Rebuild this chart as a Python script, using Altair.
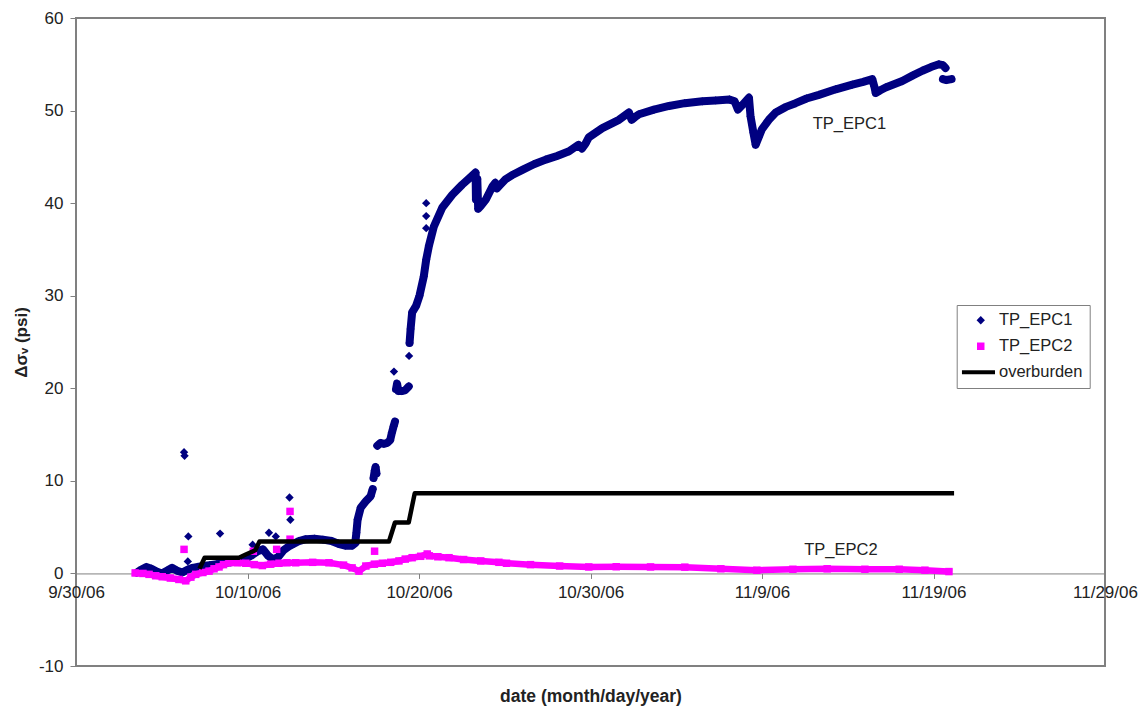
import altair as alt
import pandas as pd

BASE_DATE = "2006-09-30"
SERIES = ["TP_EPC1", "TP_EPC2", "overburden"]
COLORS = ["#000080", "#FF00FF", "#000000"]
LINE_SYMBOL = "M-5.8,-0.6L4.4,-0.6L4.4,0.6L-5.8,0.6Z"
TICK_DATES = ["2006-09-30", "2006-10-10", "2006-10-20", "2006-10-30",
              "2006-11-09", "2006-11-19", "2006-11-29"]
Y_TICKS = [-10, 0, 10, 20, 30, 40, 50, 60]

# TP_EPC1 dense trace (days after 9/30/06, psi, segment id)
EPC1_DAYS = [3.55, 3.8, 4.1, 4.4, 4.7, 5.0, 5.3, 5.6, 5.9, 6.2, 6.5, 6.8, 7.1, 7.4, 7.8, 8.2, 8.6,
             9.0, 9.4, 9.8, 10.2, 10.6, 10.9, 11.2, 11.5, 11.8, 12.1, 12.4, 12.7, 13.0, 13.4, 13.9,
             14.4, 14.9, 15.3, 15.7, 16.1, 16.3,
             16.3, 16.35, 16.42, 16.6, 16.9, 17.18, 17.3,
             17.35, 17.42, 17.47, 17.52,
             17.57, 17.75, 17.95, 18.15, 18.32, 18.42, 18.52, 18.6,
             18.66, 18.72, 18.8, 19.0, 19.2, 19.4,
             19.45, 19.51, 19.6, 19.83, 20.03, 20.28, 20.42, 20.58, 20.87, 21.35, 21.94, 22.52, 23.0,
             23.3, 23.4, 23.35, 23.32, 23.45, 23.6, 23.9, 24.28, 24.45, 24.55, 24.75, 25.06, 25.5,
             26.03, 26.7, 27.39, 28.05, 28.75, 29.3, 29.5, 29.7, 29.9, 30.69, 31.66, 32.24, 32.4,
             32.6, 32.83, 33.7, 34.58, 35.5, 36.52, 37.3, 38.1, 38.4, 38.6, 38.95, 39.24, 39.33,
             39.5, 39.63, 39.8, 40.0, 40.4, 40.8, 41.4, 41.96, 42.6, 43.32, 44.3, 45.27, 45.9,
             46.43, 46.55, 46.63, 46.9, 47.21, 48.18, 48.8, 49.35, 49.85, 50.32, 50.55, 50.7,
             50.55, 50.75, 51.05]
EPC1_VALUES = [0.1, 0.4, 0.7, 0.5, 0.2, 0.0, 0.3, 0.6, 0.3, 0.1, 0.4, 0.6, 0.7, 0.8, 0.9, 1.0, 1.1,
               1.2, 1.3, 1.5, 1.9, 2.4, 2.6, 1.9, 1.5, 1.8, 2.5, 2.9, 3.2, 3.5, 3.7, 3.75,
               3.65, 3.5, 3.2, 3.0, 3.0, 3.3,
               3.6, 4.4, 5.8, 7.1, 7.8, 8.35, 9.1,
               10.3, 11.1, 11.5, 10.8,
               13.8, 14.1, 14.0, 14.1, 14.4, 15.2, 15.9, 16.4,
               19.9, 20.5, 19.7, 19.7, 19.8, 20.2,
               24.9, 26.4, 28.2, 28.9, 30.0, 32.1, 33.9, 35.4, 37.5, 39.5, 40.9, 42.0, 42.8,
               43.3, 42.6, 41.3, 40.4, 39.4, 39.7, 40.4, 41.8, 42.2, 41.6, 42.0, 42.6, 43.1,
               43.6, 44.2, 44.7, 45.1, 45.6, 46.3, 45.9, 46.4, 47.1, 48.1, 49.0, 49.8, 49.0,
               49.3, 49.6, 50.1, 50.5, 50.8, 51.0, 51.1, 51.2, 51.0, 50.1, 50.8, 51.4, 49.4,
               47.6, 46.3, 47.1, 48.0, 49.0, 49.8, 50.4, 50.8, 51.3, 51.7, 52.3, 52.8, 53.1,
               53.4, 52.6, 51.9, 52.2, 52.5, 53.2, 53.8, 54.3, 54.7, 55.0, 54.9, 54.6,
               53.4, 53.3, 53.4]
EPC1_SEGMENTS = [0] * 38 + [1] * 7 + [2] * 4 + [3] * 8 + [4] * 6 + [5] * 77 + [6] * 3

# TP_EPC1 scattered readings
EPC1_OUT_DAYS = [6.3, 6.33, 6.55, 6.52, 8.4, 10.3, 11.25, 11.65, 12.45, 12.5,
                 18.54, 19.42, 20.42, 20.42, 20.42]
EPC1_OUT_VALUES = [13.1, 12.7, 4.0, 1.3, 4.3, 3.1, 4.4, 4.0, 8.2, 5.8,
                   21.8, 23.5, 40.0, 38.6, 37.3]

# TP_EPC2 dense trace
EPC2_DAYS = [3.45, 3.9, 4.26, 4.65, 5.03, 5.5, 6.0, 6.4, 6.7, 6.98, 7.4, 7.76, 8.05, 8.34, 8.6,
             8.92, 9.4, 9.9, 10.4, 10.86, 11.35, 11.84, 12.3, 12.81, 13.8, 14.75, 15.6, 16.1,
             16.5, 16.9, 17.4, 17.86, 18.35, 18.83, 19.2, 19.6, 20.1, 20.48, 20.6, 21.1, 21.75,
             22.6, 23.6, 24.66, 25.1, 26.5, 28.2, 29.9, 31.5, 33.5, 35.5, 37.6, 39.7, 41.8,
             43.8, 46.0, 48.0, 49.5, 50.9]
EPC2_VALUES = [0.05, 0.0, -0.1, -0.25, -0.36, -0.5, -0.65, -0.8, -0.4, -0.1, 0.1, 0.25, 0.5, 0.7,
               0.95, 1.15, 1.15, 1.1, 0.95, 0.85, 1.0, 1.1, 1.15, 1.15, 1.2, 1.15, 0.9, 0.6,
               0.25, 0.8, 1.0, 1.1, 1.2, 1.35, 1.55, 1.7, 1.85, 2.1, 1.9, 1.8, 1.7,
               1.5, 1.35, 1.2, 1.1, 0.95, 0.8, 0.7, 0.72, 0.7, 0.68, 0.5, 0.35, 0.45,
               0.5, 0.45, 0.45, 0.35, 0.2]
EPC2_OUT_DAYS = [6.3, 10.34, 11.7, 12.48, 12.48, 17.41]
EPC2_OUT_VALUES = [2.6, 2.4, 2.6, 6.7, 3.7, 2.4]

# overburden
OVB_DAYS = [7.2, 7.5, 9.5, 9.9, 10.45, 10.7, 18.25, 18.6, 19.4, 19.75, 51.2]
OVB_VALUES = [0.5, 1.7, 1.7, 2.05, 2.5, 3.45, 3.45, 5.5, 5.5, 8.65, 8.65]

# annotations
LABEL_TEXT = ["TP_EPC1", "TP_EPC2"]
LABEL_DAYS = [45.1, 44.6]
LABEL_VALUES = [48.6, 2.5]

FONT = "Liberation Sans"
base = pd.Timestamp(BASE_DATE)


def to_dates(days):
    return list(base + pd.to_timedelta(pd.Series(days, dtype=float), unit="D"))


epc1_line = pd.DataFrame({"date": to_dates(EPC1_DAYS), "value": EPC1_VALUES,
                          "seg": EPC1_SEGMENTS})
epc2_line = pd.DataFrame({"date": to_dates(EPC2_DAYS), "value": EPC2_VALUES})
ovb = pd.DataFrame({"date": to_dates(OVB_DAYS), "value": OVB_VALUES})
points = pd.concat([
    pd.DataFrame({"date": to_dates(EPC1_DAYS + EPC1_OUT_DAYS),
                  "value": EPC1_VALUES + EPC1_OUT_VALUES, "series": "TP_EPC1"}),
    pd.DataFrame({"date": to_dates(EPC2_DAYS + EPC2_OUT_DAYS),
                  "value": EPC2_VALUES + EPC2_OUT_VALUES, "series": "TP_EPC2"}),
], ignore_index=True)
labels = pd.DataFrame({"date": to_dates(LABEL_DAYS), "value": LABEL_VALUES,
                       "text": LABEL_TEXT})


def dt(s):
    t = pd.Timestamp(s)
    return alt.DateTime(year=t.year, month=t.month, date=t.day)


x_enc = alt.X(
    "date:T",
    scale=alt.Scale(domain=[dt(TICK_DATES[0]), dt(TICK_DATES[-1])]),
    axis=alt.Axis(
        values=[dt(s) for s in TICK_DATES], format="%-m/%-d/%y", grid=False,
        offset=-92.57, domainColor="#808080", domainWidth=1, tickColor="#808080",
        tickSize=5, labelFont=FONT, labelFontSize=17, labelColor="#222222",
        labelPadding=6, labelFlush=False,
        title="date (month/day/year)", titleFont=FONT, titleFontSize=17.5,
        titleFontWeight="bold", titleColor="#222222", titleY=123,
        titleBaseline="middle",
    ),
)
y_enc = alt.Y(
    "value:Q",
    scale=alt.Scale(domain=[-10, 60], nice=False, zero=False),
    axis=alt.Axis(
        values=Y_TICKS, grid=False, domain=False, tickColor="#808080", tickSize=6,
        labelExpr="toString(datum.value)",
        labelFont=FONT, labelFontSize=17, labelColor="#222222", labelPadding=7,
        title="Δσᵥ (psi)", titleFont=FONT, titleFontSize=17, titleFontWeight="bold",
        titleColor="#222222", titleX=-50, titleY=324, titleBaseline="alphabetic",
    ),
)

legend = alt.Legend(
    title=None, orient="none", legendX=880.7, legendY=287, padding=7,
    strokeColor="#808080", fillColor="white", symbolSize=50, symbolOffset=8.8,
    symbolStrokeWidth=0, labelOffset=10, labelFont=FONT, labelFontSize=16.5,
    labelColor="#222222", rowPadding=9,
)

line1 = alt.Chart(epc1_line).mark_line(
    color=COLORS[0], strokeWidth=8, strokeJoin="round", strokeCap="round"
).encode(x=x_enc, y=y_enc, detail="seg:N")

pts = alt.Chart(points).mark_point(filled=True, opacity=1).encode(
    x=x_enc, y=y_enc,
    color=alt.Color("series:N", scale=alt.Scale(domain=SERIES, range=COLORS), legend=legend),
    shape=alt.Shape("series:N",
                    scale=alt.Scale(domain=SERIES, range=["diamond", "square", LINE_SYMBOL]),
                    legend=legend),
    size=alt.Size("series:N", scale=alt.Scale(domain=SERIES, range=[70, 42, 70]), legend=None),
)

line2 = alt.Chart(epc2_line).mark_line(
    color=COLORS[1], strokeWidth=6.5, strokeJoin="round", strokeCap="square"
).encode(x=x_enc, y=y_enc)

line3 = alt.Chart(ovb).mark_line(
    color=COLORS[2], strokeWidth=4.5, strokeJoin="round", strokeCap="butt"
).encode(x=x_enc, y=y_enc)

txt = alt.Chart(labels).mark_text(
    font=FONT, fontSize=16.5, color="#222222", align="center", baseline="middle"
).encode(x=x_enc, y=y_enc, text="text:N")

chart = alt.layer(line1, pts, line2, line3, txt).properties(
    width=1029, height=648,
    autosize=alt.AutoSizeParams(type="none"),
    padding={"left": 76, "top": 18, "right": 41, "bottom": 43},
).configure_view(stroke="#808080", strokeWidth=2)

chart.save("out.html", embed_options={"renderer": "svg", "actions": False})
